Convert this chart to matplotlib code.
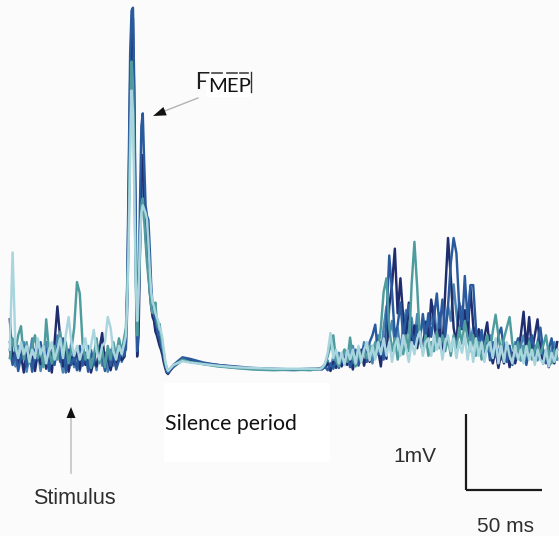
import numpy as np
import matplotlib
matplotlib.use("Agg")
import matplotlib.pyplot as plt
from matplotlib.patches import Rectangle, Polygon
from matplotlib.lines import Line2D

# ---------------- data ----------------
# sample times (ms, stimulus at 0)
t_pre = np.linspace(-39.6, 35.9, 42)
t_mep = np.linspace(36.8, 65.4, 32)
t_sil = np.array([68, 74, 79, 88, 97, 109, 120, 134, 147, 158])
t_burst = np.linspace(164, 320.5, 86)
time_ms = np.concatenate([t_pre, t_mep, t_sil, t_burst])

# EMG traces (mV)
navy_mv = [
    # pre-stimulus
    0.68, 0.14, 0.28, 0.1, 0.21, -0.02, 0.28, 0.11, 0.19, 0.0,
    0.24, 0.09, 0.33, 0.03, 0.17, -0.02, 0.38, 0.85, 0.43, 0.06,
    0.28, -0.01, 0.19, 0.09, 0.3, 0.02, 0.24, 0.08, 0.19, -0.02,
    0.14, 0.06, 0.28, 0.5, 0.08, 0.19, 0.01, 0.17, 0.07, 0.24,
    0.14, 0.19,
    # MEP
    0.47, 1.04, 2.46, 3.79, 4.55, 4.64, 3.41, 1.7, 0.19, 0.47,
    1.52, 2.65, 2.84, 2.27, 1.8, 1.52, 1.33, 1.04, 0.85, 0.71,
    0.66, 0.52, 0.47, 0.4, 0.33, 0.28, 0.21, 0.11, 0.04, -0.02,
    -0.04, -0.01,
    # silent period
    0.06, 0.16, 0.14, 0.1, 0.08, 0.05, 0.03, 0.02, 0.02, 0.02,
    # burst
    0.02, 0.03, 0.05, 0.1, 0.0, 0.12, 0.04, 0.15, 0.06, 0.19,
    0.08, 0.17, 0.02, 0.21, 0.1, 0.28, 0.07, 0.24, 0.12, 0.33,
    0.18, 0.28, 0.06, 0.43, 0.16, 0.85, 1.14, 1.61, 0.76, 1.22,
    0.7, 0.45, 0.9, 0.35, 0.6, 0.3, 0.55, 0.25, 0.65, 0.4,
    0.94, 0.66, 0.36, 0.57, 0.25, 1.04, 1.75, 1.23, 0.57, 0.36,
    0.9, 0.55, 0.8, 0.45, 1.1, 0.6, 0.4, 0.55, 0.25, 0.45,
    0.64, 0.26, 0.1, 0.28, 0.04, 0.24, 0.1, 0.28, 0.05, 0.24,
    0.1, 0.28, 0.47, 0.78, 0.3, 0.71, 0.26, 0.47, 0.68, 0.26,
    0.1, 0.24, 0.05, 0.19, 0.1, 0.38,
]

blue_mv = [
    0.28, 0.08, 0.24, 0.0, 0.19, 0.33, 0.06, 0.24, -0.01, 0.28,
    0.14, 0.38, 0.07, 0.28, 0.0, 0.24, 0.08, 0.33, 0.12, 0.43,
    -0.02, 0.28, 0.08, 0.19, 0.01, 0.33, 0.07, 0.24, -0.01, 0.28,
    0.08, 0.38, 0.13, 0.19, 0.0, 0.28, 0.07, 0.24, 0.02, 0.14,
    0.28, 0.2,
    0.38, 1.23, 2.75, 4.17, 4.74, 4.78, 3.69, 1.89, 0.26, 0.76,
    2.18, 3.22, 3.39, 2.75, 2.18, 2.04, 1.99, 1.61, 1.14, 0.85,
    0.76, 0.66, 0.57, 0.47, 0.43, 0.33, 0.28, 0.19, 0.08, 0.0,
    -0.03, 0.0,
    0.08, 0.18, 0.16, 0.11, 0.08, 0.06, 0.04, 0.03, 0.02, 0.03,
    0.03, 0.02, 0.06, 0.01, 0.1, 0.03, 0.13, 0.04, 0.17, 0.08,
    0.21, 0.05, 0.14, 0.28, 0.07, 0.19, 0.33, 0.12, 0.38, 0.47,
    0.61, 0.22, 0.38, 0.15, 0.66, 1.52, 1.04, 0.45, 0.6, 0.9,
    0.45, 0.7, 0.87, 0.5, 0.35, 0.6, 0.4, 0.75, 0.45, 0.76,
    0.45, 0.71, 1.02, 0.57, 0.94, 0.45, 0.85, 1.42, 1.75, 1.55,
    0.85, 0.57, 1.25, 0.66, 1.13, 1.13, 0.55, 0.3, 0.54, 0.25,
    0.43, 0.14, 0.38, 0.2, 0.47, 0.57, 0.26, 0.12, 0.33, 0.08,
    0.28, 0.43, 0.14, 0.33, 0.08, 0.28, 0.47, 0.2, 0.38, 0.57,
    0.26, 0.1, 0.28, 0.43, 0.15, 0.28,
]

steel_mv = [
    0.38, 0.19, 0.06, 0.33, 0.12, 0.38, -0.01, 0.19, 0.43, 0.07,
    0.28, 0.0, 0.24, 0.38, 0.06, 0.28, 0.12, 0.47, 0.17, -0.02,
    0.33, 0.12, 0.38, 0.05, 0.24, 0.0, 0.28, 0.12, 0.33, 0.06,
    0.19, 0.01, 0.33, 0.07, 0.24, -0.01, 0.28, 0.07, 0.19, 0.33,
    0.12, 0.28,
    0.28, 0.85, 2.08, 3.41, 4.36, 4.26, 3.13, 1.42, 0.38, 0.85,
    1.89, 2.46, 2.37, 2.18, 2.08, 1.89, 1.52, 1.23, 0.95, 0.8,
    0.76, 0.8, 0.57, 0.47, 0.52, 0.38, 0.28, 0.17, 0.09, 0.02,
    -0.02, 0.0,
    0.05, 0.14, 0.13, 0.09, 0.07, 0.04, 0.03, 0.02, 0.01, 0.02,
    0.02, 0.04, 0.08, 0.14, 0.02, 0.19, 0.07, 0.24, 0.1, 0.28,
    0.12, 0.24, 0.33, 0.1, 0.28, 0.17, 0.38, 0.15, 0.28, 0.1,
    0.33, 0.47, 0.2, 0.57, 0.85, 0.45, 0.66, 0.36, 0.57, 0.25,
    0.6, 0.8, 0.5, 0.7, 0.4, 0.75, 0.5, 0.65, 0.45, 0.7,
    0.62, 0.85, 0.45, 0.76, 0.36, 0.57, 0.85, 0.66, 1.14, 0.76,
    0.45, 0.85, 0.55, 0.76, 0.4, 0.57, 0.3, 0.47, 0.25, 0.43,
    0.26, 0.47, 0.2, 0.38, 0.25, 0.15, 0.38, 0.2, 0.33, 0.14,
    0.38, 0.2, 0.33, 0.47, 0.25, 0.43, 0.2, 0.33, 0.14, 0.38,
    0.2, 0.28, 0.1, 0.28, 0.38, 0.15,
]

teal_mv = [
    0.17, 0.43, 0.26, 0.47, 0.59, 0.15, 0.38, 0.1, 0.33, 0.47,
    0.17, 0.28, 0.05, 0.68, 0.26, 0.1, 0.33, 0.15, 0.52, 0.2,
    0.38, 0.1, 0.28, 0.57, 1.17, 1.02, 0.36, 0.15, 0.28, 0.04,
    0.2, 0.43, 0.1, 0.28, 0.05, 0.33, 0.15, 0.38, 0.2, 0.43,
    0.26, 0.47,
    0.57, 1.14, 1.89, 3.22, 4.07, 3.79, 2.65, 1.14, 0.47, 0.95,
    1.61, 2.18, 2.27, 1.99, 1.7, 1.42, 1.23, 1.04, 0.85, 0.76,
    0.8, 0.9, 0.66, 0.57, 0.62, 0.47, 0.33, 0.24, 0.11, 0.05,
    0.0, 0.02,
    0.07, 0.15, 0.12, 0.09, 0.06, 0.04, 0.02, 0.01, 0.02, 0.01,
    0.03, 0.05, 0.09, 0.19, 0.33, 0.47, 0.14, 0.06, 0.19, 0.28,
    0.12, 0.44, 0.17, 0.06, 0.24, 0.12, 0.28, 0.17, 0.33, 0.22,
    0.38, 0.26, 0.57, 1.04, 1.22, 0.57, 0.26, 0.43, 0.15, 0.33,
    0.22, 0.47, 0.26, 1.14, 1.7, 1.09, 0.38, 0.26, 0.47, 0.2,
    0.38, 0.26, 0.52, 0.3, 0.47, 0.26, 0.43, 0.2, 0.47, 0.3,
    0.57, 0.36, 0.66, 0.43, 0.26, 0.47, 0.2, 0.38, 0.15, 0.33,
    0.47, 0.26, 0.52, 0.74, 0.47, 0.26, 0.43, 0.57, 0.71, 0.36,
    0.2, 0.38, 0.14, 0.33, 0.2, 0.38, 0.15, 0.28, 0.38, 0.22,
    0.33, 0.47, 0.22, 0.1, 0.28, 0.17,
]

light_mv = [
    0.28, 1.56, 0.33, 0.17, 0.38, 0.22, 0.33, 0.12, 0.28, 0.17,
    0.43, 0.22, 0.33, 0.1, 0.28, 0.38, 0.15, 0.28, 0.43, 0.17,
    0.47, 0.71, 0.38, 0.2, 0.33, 0.15, 0.28, 0.43, 0.17, 0.33,
    0.54, 0.26, 0.15, 0.33, 0.38, 0.71, 0.57, 0.26, 0.15, 0.33,
    0.22, 0.38,
    0.47, 0.95, 1.7, 2.84, 3.69, 3.41, 2.27, 1.23, 0.66, 1.04,
    1.7, 2.08, 2.18, 2.13, 2.08, 1.99, 1.7, 1.33, 1.04, 0.9,
    0.85, 0.76, 0.71, 0.66, 0.57, 0.52, 0.43, 0.28, 0.14, 0.05,
    0.0, 0.02,
    0.08, 0.13, 0.11, 0.09, 0.07, 0.05, 0.04, 0.03, 0.03, 0.03,
    0.02, 0.04, 0.09, 0.24, 0.5, 0.17, 0.28, 0.1, 0.24, 0.08,
    0.28, 0.15, 0.28, 0.1, 0.33, 0.12, 0.28, 0.38, 0.14, 0.33,
    0.15, 0.38, 0.22, 0.43, 0.2, 0.38, 0.12, 0.33, 0.43, 0.2,
    0.47, 0.3, 0.12, 0.38, 0.22, 0.43, 0.52, 0.2, 0.38, 0.43,
    0.2, 0.47, 0.28, 0.43, 0.15, 0.38, 0.47, 0.26, 0.43, 0.17,
    0.38, 0.24, 0.47, 0.15, 0.38, 0.12, 0.43, 0.2, 0.38, 0.12,
    0.33, 0.38, 0.17, 0.43, 0.1, 0.33, 0.12, 0.38, 0.2, 0.1,
    0.33, 0.15, 0.28, 0.1, 0.33, 0.15, 0.28, 0.08, 0.28, 0.15,
    0.1, 0.28, 0.06, 0.24, 0.12, 0.28,
]

trace_values = [steel_mv, navy_mv, blue_mv, teal_mv, light_mv]
trace_colors = ["#4a86b5", "#1f2d6e", "#2a5a9e", "#4f9c9e", "#a9d5de"]

# scale bar
scale_ms = 50
scale_mv = 1
scale_origin_ms = 260.5
scale_origin_mv = -1.566

# ---------------- figure ----------------
W, H = 559, 536
bg = "#fbfbfb"
fig = plt.figure(figsize=(W / 100, H / 100), dpi=100, facecolor=bg)
ax = fig.add_axes([0, 0, 1, 1])
ax.set_facecolor(bg)
ax.set_xlim(-70 / 1.52, (W - 70) / 1.52)
ax.set_ylim((371 - H) / 76, 371 / 76)
ax.axis("off")

for vals, col in zip(trace_values, trace_colors):
    ax.plot(time_ms, vals, color=col, lw=1.75, solid_joinstyle="round")

# scale bar
ax.plot([scale_origin_ms, scale_origin_ms], [scale_origin_mv, scale_origin_mv + scale_mv],
        color="#1a1a1a", lw=1.6, solid_capstyle="butt")
ax.plot([scale_origin_ms, scale_origin_ms + scale_ms], [scale_origin_mv, scale_origin_mv],
        color="#1a1a1a", lw=1.6, solid_capstyle="butt")


def fx(x):
    return x / W


def fy(y):
    return 1 - y / H


def fpt(x, y):
    return (fx(x), fy(y))


arial = "Liberation Sans"

# Silence period box and label
fig.patches.append(Rectangle(fpt(164, 462), (330 - 164) / W, (462 - 383) / H,
                             transform=fig.transFigure, facecolor="white",
                             edgecolor="none", zorder=2))
fig.text(fx(165), fy(430), "Silence period", family="Lato", fontsize=15.3,
         color="#111111", va="baseline", ha="left", zorder=3)

# MEP label: partly hidden "F" remnant, white patch, then MEP
fig.text(fx(195), fy(89), "F", family=arial, fontsize=17, color="#1e1e1e",
         va="baseline", ha="left", zorder=3)
for xa, xb in [(212, 222), (227, 237), (240, 248)]:
    fig.lines.append(Line2D([fx(xa), fx(xb)], [fy(72.5), fy(72.5)], transform=fig.transFigure,
                            color="#444444", lw=1.2, zorder=3))
fig.patches.append(Rectangle(fpt(206, 97), (251 - 206) / W, (97 - 75) / H,
                             transform=fig.transFigure, facecolor="white",
                             edgecolor="none", zorder=4))
fig.lines.append(Line2D([fx(251), fx(251)], [fy(72), fy(92)], transform=fig.transFigure,
                        color="#333333", lw=1.0, zorder=5))
fig.text(fx(208), fy(92), "MEP", family="Lato", fontsize=14.6, color="#111111",
         va="baseline", ha="left", zorder=6)

# MEP arrow
fig.lines.append(Line2D([fx(198), fx(162)], [fy(98), fy(112)], transform=fig.transFigure,
                        color="#b3b3b3", lw=1.0, zorder=3))
tip = np.array([153.0, 116.0])
d = np.array([198.0 - 153.0, 98.0 - 116.0])
d = d / np.hypot(*d)
nrm = np.array([-d[1], d[0]])
base = tip + d * 13
head = [tip, base + nrm * 4.5, base - nrm * 4.5]
fig.patches.append(Polygon([fpt(*p) for p in head], closed=True, transform=fig.transFigure,
                           facecolor="#111111", edgecolor="none", zorder=3))

# Stimulus arrow
fig.lines.append(Line2D([fx(71), fx(71)], [fy(473), fy(416)], transform=fig.transFigure,
                        color="#c4c4c4", lw=1.2, zorder=3))
fig.patches.append(Polygon([fpt(71, 407), fpt(66.5, 418), fpt(75.5, 418)], closed=True,
                           transform=fig.transFigure, facecolor="#111111",
                           edgecolor="none", zorder=3))
fig.text(fx(33), fy(504), "Stimulus", family=arial, fontsize=15.5, color="#2e2e2e",
         va="baseline", ha="left", zorder=3)

# scale labels
fig.text(fx(393), fy(462), "1mV", family=arial, fontsize=15, color="#2e2e2e",
         va="baseline", ha="left", zorder=3)
fig.text(fx(477), fy(532), "50 ms", family=arial, fontsize=15, color="#2e2e2e",
         va="baseline", ha="left", zorder=3)

fig.savefig("out.png", dpi=100, facecolor=bg)
